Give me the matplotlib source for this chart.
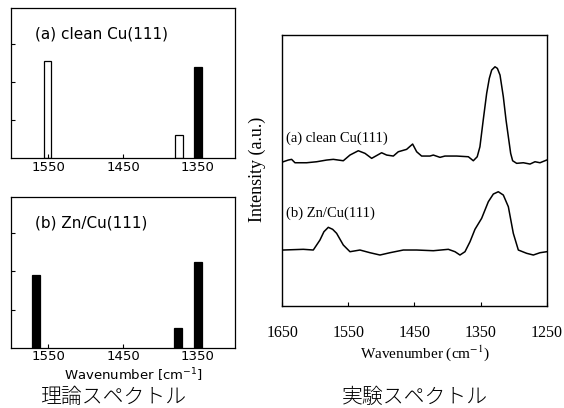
import matplotlib
matplotlib.use("Agg")
import matplotlib.pyplot as plt

# theoretical spectra (bar positions in cm-1, heights in arbitrary units)
calc_a_open_x = [1551, 1375]
calc_a_open_h = [2.56, 0.61]
calc_a_fill_x = [1350]
calc_a_fill_h = [2.39]
calc_b_x = [1566, 1376, 1349]
calc_b_h = [1.90, 0.52, 2.26]

exp_a_wn = [1648.5, 1640.9, 1635.9, 1630.8, 1613.2, 1598.0, 1582.9, 1572.8,
            1557.7, 1547.6, 1535.0, 1524.9, 1514.8, 1499.7, 1492.1, 1482.0,
            1474.5, 1461.9, 1452.8, 1446.7, 1439.2, 1426.6, 1421.5, 1411.4,
            1403.9, 1386.2, 1368.5, 1361.0, 1355.1, 1351.0, 1346.0, 1340.8,
            1336.8, 1333.2, 1328.2, 1324.6, 1320.6, 1315.6, 1311.5, 1308.0,
            1304.5, 1301.5, 1295.4, 1285.3, 1275.2, 1267.7, 1260.1, 1250.0]
exp_a_int = [144.3, 146.0, 146.7, 143.3, 143.3, 144.3, 146.0, 146.7,
             145.3, 151.0, 155.3, 152.7, 147.7, 153.3, 151.0, 150.0,
             154.3, 156.7, 162.0, 154.3, 150.0, 150.0, 151.0, 148.7,
             150.0, 150.0, 149.3, 145.3, 149.3, 159.3, 186.0, 212.7,
             227.7, 236.0, 239.3, 237.7, 231.0, 209.3, 186.0, 169.3,
             152.7, 145.3, 142.7, 143.3, 142.0, 144.3, 143.3, 146.0]
exp_b_wn = [1648.5, 1618.2, 1603.1, 1593.0, 1587.0, 1580.4, 1573.8, 1567.8,
            1557.7, 1547.6, 1532.5, 1517.3, 1502.2, 1487.1, 1466.9, 1446.7,
            1421.5, 1398.8, 1388.7, 1381.2, 1373.6, 1366.0, 1358.5, 1348.4,
            1338.3, 1330.7, 1323.2, 1315.6, 1308.0, 1300.5, 1292.9, 1280.3,
            1270.2, 1260.1, 1250.0]
exp_b_int = [56.0, 56.7, 56.0, 66.0, 74.3, 78.7, 76.7, 72.7,
             61.0, 54.3, 56.0, 53.3, 51.0, 53.3, 56.0, 56.0,
             55.3, 56.7, 54.3, 51.0, 54.3, 64.3, 76.7, 87.7,
             104.3, 112.0, 114.3, 111.0, 99.3, 72.7, 56.0, 52.7,
             51.0, 53.3, 54.3]

jp = ['Noto Sans CJK JP', 'DejaVu Sans']
sans = ['DejaVu Sans', 'Noto Sans CJK JP']
serif = ['Liberation Serif', 'DejaVu Serif']

fig = plt.figure(figsize=(5.64, 4.08), dpi=100)

def calc_panel(ax, label):
    ax.set_xlim(1600, 1300)
    ax.set_ylim(0, 3.95)
    ax.set_xticks([1550, 1450, 1350])
    ax.set_yticks([1, 2, 3])
    ax.set_yticklabels([])
    ax.tick_params(direction='in', length=3, width=0.8, pad=2, labelsize=9.5)
    for lab in ax.get_xticklabels():
        lab.set_family(sans)
    for s in ax.spines.values():
        s.set_linewidth(0.9)
    ax.text(0.107, 0.825, label, transform=ax.transAxes, fontsize=11,
            family=sans, va='center')

ax1 = fig.add_axes([0.0195, 0.6127, 0.397, 0.368])
ax1.bar(calc_a_open_x, calc_a_open_h, width=10.5, color='white',
        edgecolor='black', linewidth=0.9)
ax1.bar(calc_a_fill_x, calc_a_fill_h, width=10.5, color='black',
        edgecolor='black', linewidth=0.9)
calc_panel(ax1, '(a) clean Cu(111)')

ax2 = fig.add_axes([0.0195, 0.1478, 0.397, 0.369])
ax2.bar(calc_b_x, calc_b_h, width=10.5, color='black', edgecolor='black',
        linewidth=0.9)
calc_panel(ax2, '(b) Zn/Cu(111)')

fig.text(0.237, 0.081, 'Wavenumber [cm$^{-1}$]', ha='center', va='center',
         fontsize=9.5, family=sans)
fig.text(0.20, 0.027, '理論スペクトル', ha='center', va='center',
         fontsize=15, family=jp, fontweight='light')

ax3 = fig.add_axes([0.5005, 0.25, 0.4688, 0.664])
ax3.plot(exp_a_wn, exp_a_int, color='black', lw=1.1)
ax3.plot(exp_b_wn, exp_b_int, color='black', lw=1.1)
ax3.set_xlim(1650, 1250)
ax3.set_ylim(0, 271)
ax3.set_xticks([1650, 1550, 1450, 1350, 1250])
ax3.set_yticks([])
ax3.tick_params(direction='in', length=3, width=0.8, pad=14, labelsize=11.5)
for lab in ax3.get_xticklabels():
    lab.set_family(serif)
for s in ax3.spines.values():
    s.set_linewidth(1.0)
ax3.text(1645, 167.7, '(a) clean Cu(111)', fontsize=10.5, family=serif,
         va='center')
ax3.text(1644, 92.7, '(b) Zn/Cu(111)', fontsize=10.5, family=serif,
         va='center')

fig.text(0.457, 0.585, 'Intensity (a.u.)', rotation=90, ha='center',
         va='center', fontsize=13, family=serif)
fig.text(0.7527, 0.135, 'Wavenumber (cm$^{-1}$)', ha='center', va='center',
         fontsize=11, family=serif, math_fontfamily='stix')
fig.text(0.736, 0.027, '実験スペクトル', ha='center', va='center',
         fontsize=15, family=jp, fontweight='light')

fig.savefig('out.png', dpi=100)
